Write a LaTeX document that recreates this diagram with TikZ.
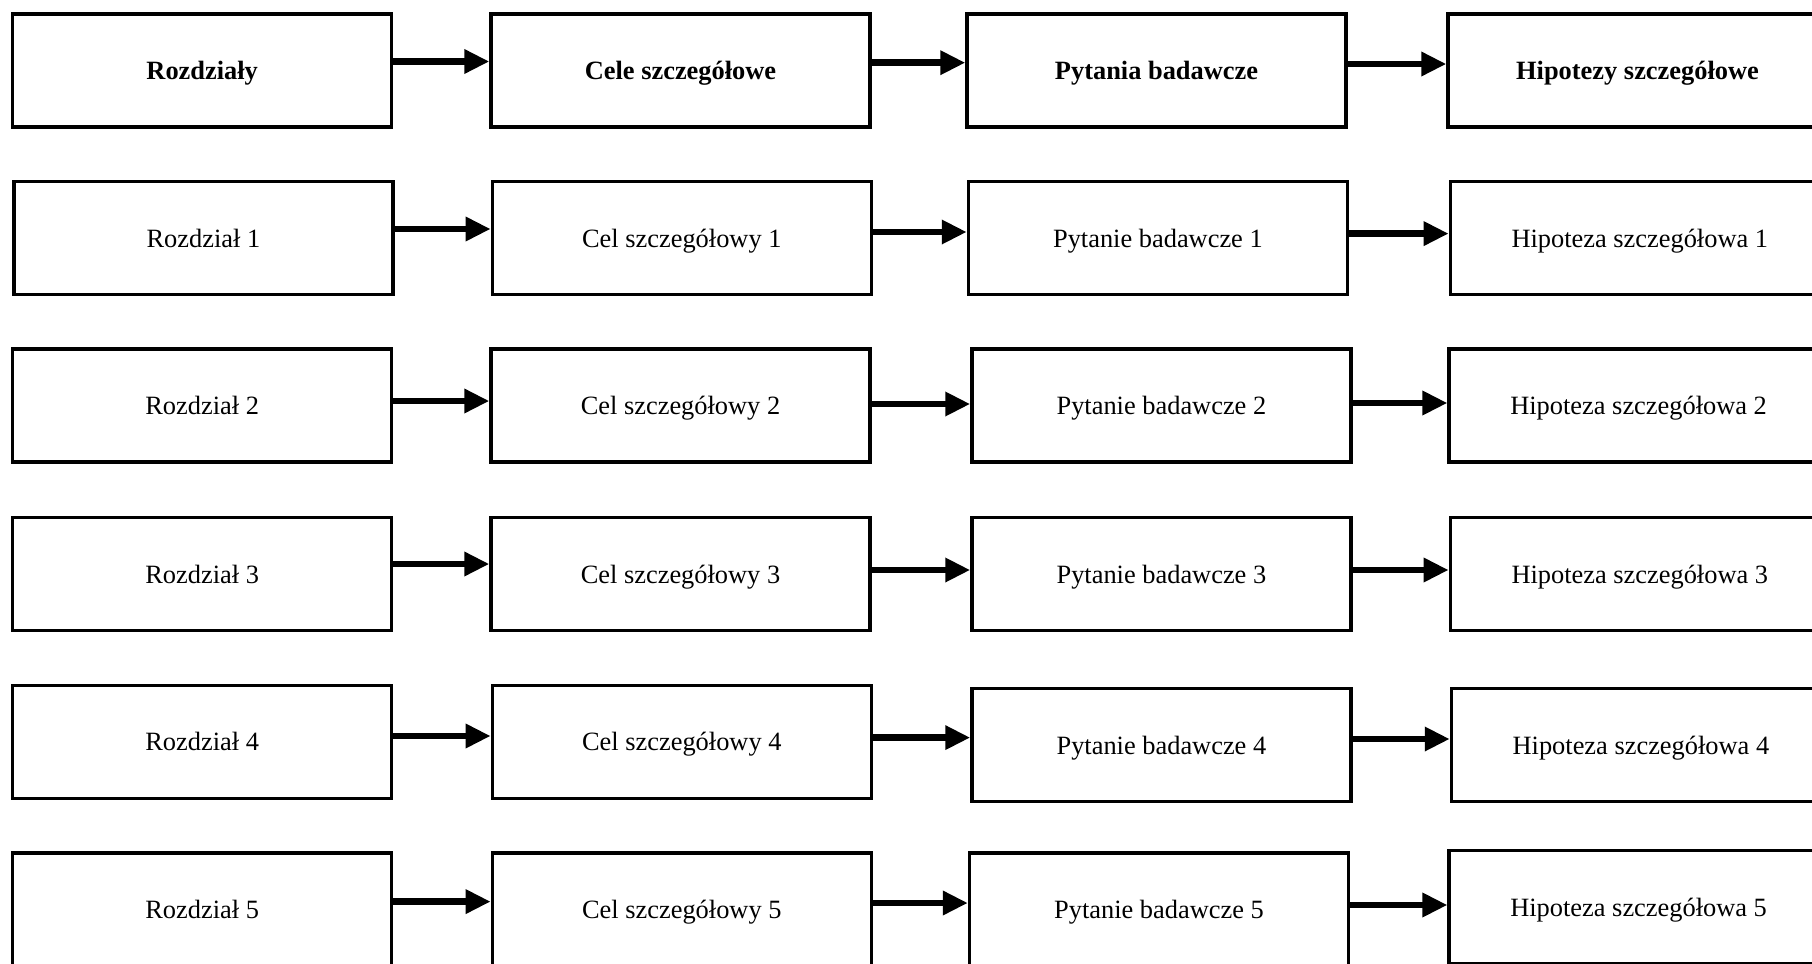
\documentclass[tikz,border=0pt]{standalone}
\usepackage{fontspec}
\setmainfont{Liberation Serif}
\usetikzlibrary{arrows.meta}
\tikzset{
  box/.style={draw=black, line width=1.65pt, minimum width=189.5pt, minimum height=56.5pt,
    inner sep=0pt, text height=9pt, text depth=0pt, font=\fontsize{13.2pt}{15pt}\selectfont},
  head/.style={box, font=\fontsize{13.2pt}{15pt}\selectfont\bfseries},
  arr/.style={line width=3.3pt, -{Triangle[length=12.5pt,width=11.5pt]}}
}
\begin{document}
\begin{tikzpicture}[x=0.5pt,y=-0.5pt]
\clip (0,0) rectangle (1812,964);
% row 1
\node[head] (r1c1) at (202.2,70.5) {Rozdziały};
\node[head] (r1c2) at (680.5,70.5) {Cele szczegółowe};
\node[head] (r1c3) at (1156.5,70.5) {Pytania badawcze};
\node[head] (r1c4) at (1637.5,70.5) {Hipotezy szczegółowe};
% row 2
\node[box] (r2c1) at (203.4,238) {Rozdział 1};
\node[box] (r2c2) at (681.8,238) {Cel szczegółowy 1};
\node[box] (r2c3) at (1157.9,238) {Pytanie badawcze 1};
\node[box] (r2c4) at (1639.8,238) {Hipoteza szczegółowa 1};
% row 3
\node[box] (r3c1) at (202.2,405.6) {Rozdział 2};
\node[box] (r3c2) at (680.5,405.6) {Cel szczegółowy 2};
\node[box] (r3c3) at (1161.4,405.6) {Pytanie badawcze 2};
\node[box] (r3c4) at (1638.6,405.6) {Hipoteza szczegółowa 2};
% row 4
\node[box] (r4c1) at (202.2,574.3) {Rozdział 3};
\node[box] (r4c2) at (680.5,574.3) {Cel szczegółowy 3};
\node[box] (r4c3) at (1161.4,574.3) {Pytanie badawcze 3};
\node[box] (r4c4) at (1639.8,574.3) {Hipoteza szczegółowa 3};
% row 5
\node[box] (r5c1) at (202.2,741.9) {Rozdział 4};
\node[box] (r5c2) at (681.8,741.9) {Cel szczegółowy 4};
\node[box] (r5c3) at (1161.4,745.3) {Pytanie badawcze 4};
\node[box] (r5c4) at (1640.9,745.3) {Hipoteza szczegółowa 4};
% row 6
\node[box] (r6c1) at (202.2,909.4) {Rozdział 5};
\node[box] (r6c2) at (681.8,909.4) {Cel szczegółowy 5};
\node[box] (r6c3) at (1159,909.4) {Pytanie badawcze 5};
\node[box] (r6c4) at (1638.6,907) {Hipoteza szczegółowa 5};
% arrows
\draw[arr] (r1c1.east |- 0,61.5) -- (r1c2.west |- 0,61.5);
\draw[arr] (r1c2.east |- 0,62.7) -- (r1c3.west |- 0,62.7);
\draw[arr] (r1c3.east |- 0,64) -- (r1c4.west |- 0,64);
\draw[arr] (r2c1.east |- 0,229) -- (r2c2.west |- 0,229);
\draw[arr] (r2c2.east |- 0,232) -- (r2c3.west |- 0,232);
\draw[arr] (r2c3.east |- 0,233.6) -- (r2c4.west |- 0,233.6);
\draw[arr] (r3c1.east |- 0,401) -- (r3c2.west |- 0,401);
\draw[arr] (r3c2.east |- 0,404) -- (r3c3.west |- 0,404);
\draw[arr] (r3c3.east |- 0,403) -- (r3c4.west |- 0,403);
\draw[arr] (r4c1.east |- 0,564) -- (r4c2.west |- 0,564);
\draw[arr] (r4c2.east |- 0,570) -- (r4c3.west |- 0,570);
\draw[arr] (r4c3.east |- 0,570) -- (r4c4.west |- 0,570);
\draw[arr] (r5c1.east |- 0,736) -- (r5c2.west |- 0,736);
\draw[arr] (r5c2.east |- 0,737.6) -- (r5c3.west |- 0,737.6);
\draw[arr] (r5c3.east |- 0,739) -- (r5c4.west |- 0,739);
\draw[arr] (r6c1.east |- 0,901.6) -- (r6c2.west |- 0,901.6);
\draw[arr] (r6c2.east |- 0,903) -- (r6c3.west |- 0,903);
\draw[arr] (r6c3.east |- 0,905) -- (r6c4.west |- 0,905);
\end{tikzpicture}
\end{document}
